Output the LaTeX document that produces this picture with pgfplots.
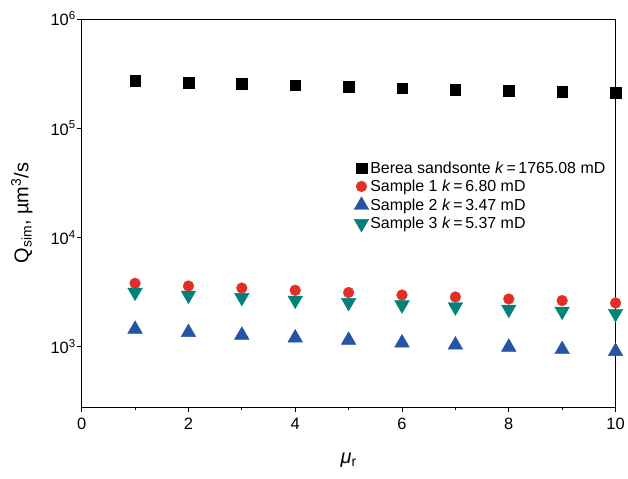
\documentclass[border=0pt]{standalone}
\usepackage{fontspec}
\setmainfont{Liberation Sans}
\usepackage{pgfplots}
\pgfplotsset{compat=1.18}
\definecolor{cred}{RGB}{226,46,36}
\definecolor{cblue}{RGB}{38,84,164}
\definecolor{cteal}{RGB}{0,130,122}
\begin{document}
\begin{tikzpicture}
\begin{axis}[
  name=ax,
  scale only axis,
  width=536bp, height=390bp,
  xmin=0, xmax=10,
  ymode=log, ymin=278, ymax=1e6,
  log basis y=10,
  axis line style={line width=0.8bp},
  every tick/.style={black, line width=0.8bp},
  tick align=outside,
  xtick pos=bottom, ytick pos=left,
  major tick length=4.5bp, minor tick length=2.5bp,
  xtick={0,2,4,6,8,10},
  minor xtick={1,3,5,7,9},
  ytick={1000,10000,100000,1000000},
  yticklabels={10\textsuperscript{3},10\textsuperscript{4},10\textsuperscript{5},10\textsuperscript{6}},
  tick label style={font=\fontsize{16.5bp}{19bp}\selectfont, /pgf/number format/assume math mode=true},
  xticklabel style={yshift=-3bp},
  yticklabel style={xshift=2bp},
  label style={font=\fontsize{20bp}{24bp}\selectfont},
  xlabel={\textit{μ}\textsubscript{r}},
  ylabel={Q\textsubscript{sim}, µm\textsuperscript{3}/s},
  xlabel style={at={(axis description cs:0.5,-0.135)}, anchor=center},
  ylabel style={at={(axis description cs:-0.112,0.5)}, anchor=center},
  legend style={draw=none, fill=none, at={(axis description cs:0.510,0.637)}, anchor=north west,
    font=\fontsize{16bp}{19bp}\selectfont, row sep=2.3bp, inner sep=0pt,
    nodes={inner sep=1.5bp}},
  legend cell align=left,
  legend image code/.code={\draw[mark repeat=1,#1] plot coordinates {(0.15cm,0cm)};},
]
\addplot[only marks, mark=square*, mark size=5.3bp, black, mark options={fill=black, draw=black}]
  coordinates {(1,272000) (2,262000) (3,255000) (4,248000) (5,241000) (6,233000) (7,226000) (8,221000) (9,215000) (10,211000)};
\addlegendentry{Berea sandsonte \textit{k}\,=\,1765.08 mD}
\addplot[only marks, mark=*, mark size=5.4bp, cred, mark options={fill=cred, draw=cred}]
  coordinates {(1,3800) (2,3590) (3,3440) (4,3280) (5,3130) (6,2970) (7,2850) (8,2730) (9,2640) (10,2510)};
\addlegendentry{Sample 1 \textit{k}\,=\,6.80 mD}
\addplot[only marks, mark=triangle*, mark size=8.5bp, cblue, mark options={fill=cblue, draw=cblue}]
  coordinates {(1,1445) (2,1349) (3,1274) (4,1203) (5,1146) (6,1082) (7,1037) (8,989) (9,942) (10,904)};
\addlegendentry{Sample 2 \textit{k}\,=\,3.47 mD}
\addplot[only marks, mark=triangle*, mark size=8.5bp, cteal, mark options={fill=cteal, draw=cteal, rotate=180}]
  coordinates {(1,3145) (2,2953) (3,2813) (4,2658) (5,2533) (6,2409) (7,2309) (8,2200) (9,2109) (10,2011)};
\addlegendentry{Sample 3 \textit{k}\,=\,5.37 mD}
\end{axis}
\path (ax.south west) ++(-82bp,-71bp) coordinate (bl);
\path (ax.north east) ++(10bp,19bp) coordinate (tr);
\useasboundingbox (bl) rectangle (tr);
\end{tikzpicture}
\end{document}
